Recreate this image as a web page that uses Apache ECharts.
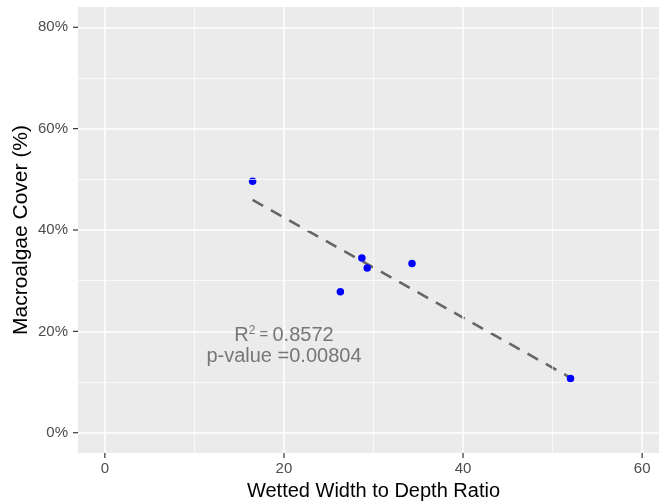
<!DOCTYPE html>
<html><head><meta charset="utf-8">
<script src="https://cdn.jsdelivr.net/npm/echarts@6/dist/echarts.min.js"></script>
<style>html,body{margin:0;padding:0;background:#fff}#c{width:659px;height:504px}</style>
</head><body><div id="c"></div>
<script>
// Data
const widthDepthRatio = [16.5, 28.7, 29.3, 26.3, 34.3, 52.0];
const macroalgaeCover = [49.6, 34.5, 32.5, 27.8, 33.4, 10.7];
const xTicks = [0, 20, 40, 60];
const yTicks = [0, 20, 40, 60, 80];
const xMinorGrid = [10, 30, 50];
const yMinorGrid = [10, 30, 50, 70];
const xRange = [-3, 63];
const yRange = [-4, 84];
const annotationPos = [20, 17.2];
const annotationR2 = '0.8572';
const annotationP = '0.00804';

// least-squares fit line over data range
const n = widthDepthRatio.length;
const mx = widthDepthRatio.reduce((a,b)=>a+b,0)/n;
const my = macroalgaeCover.reduce((a,b)=>a+b,0)/n;
let sxy=0, sxx=0;
for (let i=0;i<n;i++){sxy+=(widthDepthRatio[i]-mx)*(macroalgaeCover[i]-my);sxx+=(widthDepthRatio[i]-mx)**2;}
const slope = sxy/sxx, icpt = my - slope*mx;
const xmin = Math.min(...widthDepthRatio), xmax = Math.max(...widthDepthRatio);
const fitLine = [[xmin, icpt+slope*xmin],[xmax, icpt+slope*xmax]];

const font = '"Liberation Sans", Arial, sans-serif';
const chart = echarts.init(document.getElementById('c'), null, {renderer:'canvas'});
const gridLines = [];
xTicks.forEach(v=>gridLines.push({xAxis:v, lineStyle:{width:1.5}}));
yTicks.forEach(v=>gridLines.push({yAxis:v, lineStyle:{width:1.5}}));
xMinorGrid.forEach(v=>gridLines.push({xAxis:v, lineStyle:{width:0.7}}));
yMinorGrid.forEach(v=>gridLines.push({yAxis:v, lineStyle:{width:0.7}}));

const TICK_LEN = 5;
const tickData = xTicks.map(v=>[v, yRange[0], 0]).concat(yTicks.map(v=>[xRange[0], v, 1]));

chart.setOption({
  animation:false,
  backgroundColor:'#ffffff',
  textStyle:{fontFamily:font},
  grid:{left:78, top:7, width:591, height:446, show:true, backgroundColor:'#EBEBEB', borderWidth:0,
        containLabel:false, outerBoundsMode:'none'},
  xAxis:{type:'value', min:xRange[0], max:xRange[1], position:'bottom',
    name:'Wetted Width to Depth Ratio', nameLocation:'middle', nameGap:28, nameMoveOverlap:false,
    nameTextStyle:{fontSize:20, color:'#000', fontFamily:font},
    axisLine:{show:false}, splitLine:{show:false}, axisTick:{show:false},
    axisLabel:{customValues:xTicks, color:'#4D4D4D', fontSize:15, margin:8, fontFamily:font}},
  yAxis:{type:'value', min:yRange[0], max:yRange[1],
    name:'Macroalgae Cover (%)', nameLocation:'middle', nameGap:46, nameMoveOverlap:false,
    nameTextStyle:{fontSize:21, color:'#000', fontFamily:font},
    axisLine:{show:false}, splitLine:{show:false}, axisTick:{show:false},
    axisLabel:{customValues:yTicks, color:'#4D4D4D', fontSize:15, margin:10, fontFamily:font, formatter:v=>v+'%'}},
  series:[
    {type:'scatter', data:[], z:1, silent:true,
     markLine:{silent:true, symbol:['none','none'], label:{show:false}, animation:false,
       lineStyle:{color:'#FFFFFF', type:'solid', opacity:1}, emphasis:{disabled:true}, data:gridLines}},
    {type:'custom', coordinateSystem:'cartesian2d', clip:false, silent:true, z:6,
     data:tickData, encode:{x:0, y:1},
     renderItem:(params, api)=>{
       const p = api.coord([api.value(0), api.value(1)]);
       const isY = api.value(2) === 1;
       return {type:'line',
         shape: isY ? {x1:p[0]-TICK_LEN, y1:p[1], x2:p[0], y2:p[1]} : {x1:p[0], y1:p[1], x2:p[0], y2:p[1]+TICK_LEN},
         style:{stroke:'#333333', lineWidth:1.2}};
     }},
    {type:'line', data:fitLine, z:3, symbol:'none', silent:true,
     lineStyle:{color:'#666666', width:2.6, type:[12,9]}},
    {type:'scatter', data:widthDepthRatio.map((x,i)=>[x, macroalgaeCover[i]]), z:4,
     symbolSize:7.5, itemStyle:{color:'#0000FF', opacity:1}},
    {type:'scatter', data:[annotationPos], symbolSize:0, z:5, silent:true,
     label:{show:true, position:'inside', align:'center', verticalAlign:'middle',
       formatter:'{a|R}{s|2}{e| = }{a|'+annotationR2+'}\n{a|p-value =' + annotationP + '}',
       rich:{
         a:{fontSize:20, color:'#595959', fontFamily:font, lineHeight:21},
         s:{fontSize:12, color:'#595959', fontFamily:font, verticalAlign:'top', lineHeight:21, padding:[0,0,9,0]},
         e:{fontSize:15, color:'#595959', fontFamily:font, lineHeight:21}
       }}}
  ]
});
</script></body></html>
